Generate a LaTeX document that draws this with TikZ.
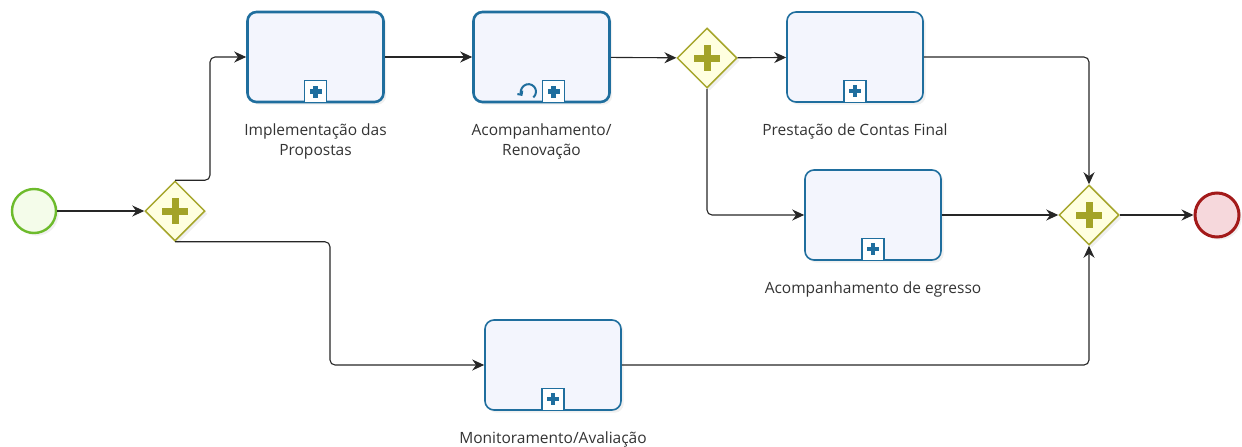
\documentclass[tikz,border=0pt]{standalone}
\usepackage{fontspec}
\setmainfont{Open Sans}
\usetikzlibrary{arrows.meta, positioning, shapes.geometric, shadows}

\definecolor{taskline}{HTML}{1F6E9E}
\definecolor{taskfill}{HTML}{F3F5FD}
\definecolor{gateline}{HTML}{A6A62C}
\definecolor{gatefill}{HTML}{FFFFE0}
\definecolor{gateplus}{HTML}{A3A328}
\definecolor{startline}{HTML}{6DBB2C}
\definecolor{startfill}{HTML}{F4FCEA}
\definecolor{stopline}{HTML}{A31A1A}
\definecolor{stopfill}{HTML}{F6D8DC}
\definecolor{labeltext}{HTML}{333333}

\begin{document}
\begin{tikzpicture}[
    x=1pt, y=-1pt,
    task/.style={rectangle, rounded corners=9pt, draw=taskline, line width=1.6pt, fill=taskfill,
        minimum width=136pt, minimum height=90pt, drop shadow={opacity=0.12}},
    thicktask/.style={task, line width=2.6pt},
    submark/.style={rectangle, draw=taskline, line width=1.3pt, fill=white, minimum size=22pt, inner sep=0pt,
        path picture={\fill[taskline] ([xshift=-6pt,yshift=-2.2pt]path picture bounding box.center) rectangle ++(12pt,4.4pt);
                      \fill[taskline] ([xshift=-2.2pt,yshift=-6pt]path picture bounding box.center) rectangle ++(4.4pt,12pt);}},
    gateway/.style={diamond, draw=gateline, line width=1.5pt, fill=gatefill, minimum size=60pt, inner sep=0pt,
        drop shadow={opacity=0.12}},
    startevent/.style={circle, draw=startline, line width=2.4pt, fill=startfill, minimum size=44pt, inner sep=0pt,
        drop shadow={opacity=0.12}},
    stopevent/.style={circle, draw=stopline, line width=3pt, fill=stopfill, minimum size=44pt, inner sep=0pt,
        drop shadow={opacity=0.12}},
    tasklabel/.style={align=center, font=\fontsize{15.5}{20}\selectfont, text=labeltext},
    flow/.style={-{Stealth[length=12pt, width=11pt]}, line width=1.1pt, draw=black!85, rounded corners=5pt}
]
\useasboundingbox (0,0) rectangle (1242,447);

% Events and gateways
\node[startevent] (start) at (34,211) {};
\node[gateway] (gwsplit) at (175,211) {};
\node[gateway] (gwfork) at (707,58) {};
\node[gateway] (gwjoin) at (1089,215) {};
\node[stopevent] (stop) at (1217,215) {};

% Tasks
\node[thicktask] (impl) at (315.5,57) {};
\node[thicktask] (renov) at (541.5,57) {};
\node[task] (prest) at (855,57) {};
\node[task] (egresso) at (873,215) {};
\node[task] (monit) at (553,365) {};

% Sub-process markers
\node[submark, anchor=south] (implmark) at (impl.south) {};
\node[submark, anchor=south, xshift=12pt] (renovmark) at (renov.south) {};
\node[submark, anchor=south] (prestmark) at (prest.south) {};
\node[submark, anchor=south] (egressomark) at (egresso.south) {};
\node[submark, anchor=south] (monitmark) at (monit.south) {};

% Loop marker
\begin{scope}[y=1pt, shift={([xshift=-25pt]renovmark.center)}]
  \draw[taskline, line width=2pt, -{Straight Barb[length=3pt, width=6pt]}]
    (-50:7.5pt) arc[start angle=-50, end angle=215, radius=7.5pt];
\end{scope}

% Plus signs in gateways
\foreach \g in {gwsplit, gwfork, gwjoin} {
  \fill[gateplus] ([xshift=-13pt,yshift=-3.5pt]\g.center) rectangle ++(26pt,7pt);
  \fill[gateplus] ([xshift=-3.5pt,yshift=-13pt]\g.center) rectangle ++(7pt,26pt);
}

% Labels
\node[tasklabel, below=17pt of impl] (impllbl) {Implementação das\\Propostas};
\node[tasklabel, below=17pt of renov] (renovlbl) {Acompanhamento/\\Renovação};
\node[tasklabel, below=17pt of prest] (prestlbl) {Prestação de Contas Final};
\node[tasklabel, below=17pt of egresso] (egressolbl) {Acompanhamento de egresso};
\node[tasklabel, below=17pt of monit] (monitlbl) {Monitoramento/Avaliação};

% Sequence flows
\draw[flow] (start) -- (gwsplit);
\draw[flow] (gwsplit.north) -- ++(35,0) |- (impl.west);
\draw[flow] (gwsplit.south) -- ++(155,0) |- (monit.west);
\draw[flow] (impl) -- (renov);
\draw[flow] (renov) -- (gwfork);
\draw[flow] (gwfork) -- (prest);
\draw[flow] (gwfork.south) |- (egresso.west);
\draw[flow] (prest.east) -| (gwjoin.north);
\draw[flow] (egresso) -- (gwjoin);
\draw[flow] (monit.east) -| (gwjoin.south);
\draw[flow] (gwjoin) -- (stop);

\end{tikzpicture}
\end{document}
